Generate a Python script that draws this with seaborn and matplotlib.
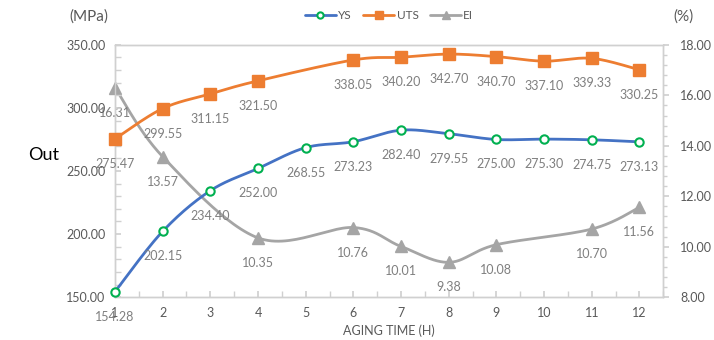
import numpy as np
import pandas as pd
import matplotlib
matplotlib.use("Agg")
import matplotlib.pyplot as plt
from matplotlib.ticker import MultipleLocator, FormatStrFormatter
from matplotlib.lines import Line2D
import seaborn as sns

# Aging time (h) and measured properties; NaN marks an untested point
aging_time = [1, 2, 3, 4, 5, 6, 7, 8, 9, 10, 11, 12]
ys = [154.28, 202.15, 234.40, 252.00, 268.55, 273.23, 282.40, 279.55, 275.00, 275.30, 274.75, 273.13]
uts = [275.47, 299.55, 311.15, 321.50, np.nan, 338.05, 340.20, 342.70, 340.70, 337.10, 339.33, 330.25]
ei = [16.31, 13.57, np.nan, 10.35, np.nan, 10.76, 10.01, 9.38, 10.08, np.nan, 10.70, 11.56]

sns.set_theme(style="white")
plt.rcParams["font.family"] = ["Lato", "DejaVu Sans"]

TXT = "#595959"
LBL = "#7f7f7f"
SPINE = "#d0d0d0"
C_YS, C_UTS, C_EI = "#4472C4", "#ED7D31", "#A5A5A5"

fig = plt.figure(figsize=(7.14, 3.40), dpi=100)
ax = fig.add_axes([0.161, 0.126, 0.768, 0.742])
ax2 = ax.twinx()

XLIM = (1, 12.5)
ax.set_xlim(*XLIM)
ax.set_ylim(150, 350)
ax2.set_ylim(8, 18)


def smooth(xs, vs, ylim, n=30):
    """Bezier smoothing through the valid points, computed in normalised axes space."""
    xs = np.asarray(xs, float)
    vs = np.asarray(vs, float)
    ok = ~np.isnan(vs)
    px = (xs[ok] - XLIM[0]) / (XLIM[1] - XLIM[0]) * 7.68
    py = (vs[ok] - ylim[0]) / (ylim[1] - ylim[0]) * 3.40 * 0.742
    P = np.column_stack([px, py])
    m = len(P)
    out = []
    for i in range(m - 1):
        p0 = P[max(i - 1, 0)]
        p1 = P[i]
        p2 = P[i + 1]
        p3 = P[min(i + 2, m - 1)]
        c1 = p1 + (p2 - p0) / 6
        c2 = p2 - (p3 - p1) / 6
        t = np.linspace(0, 1, n)[:, None]
        seg = ((1 - t) ** 3) * p1 + 3 * ((1 - t) ** 2) * t * c1 + 3 * (1 - t) * t ** 2 * c2 + t ** 3 * p2
        out.append(seg if i == 0 else seg[1:])
    S = np.vstack(out)
    sx = S[:, 0] / 7.68 * (XLIM[1] - XLIM[0]) + XLIM[0]
    sy = S[:, 1] / (3.40 * 0.742) * (ylim[1] - ylim[0]) + ylim[0]
    return pd.DataFrame({"x": sx, "y": sy})


series = [
    (ax, ys, (150, 350), C_YS, "o", "white", "#00B050", 6, "YS"),
    (ax, uts, (150, 350), C_UTS, "s", C_UTS, C_UTS, 8, "UTS"),
    (ax2, ei, (8, 18), C_EI, "^", C_EI, C_EI, 8, "EI"),
]

handles = []
for a, vals, lim, col, mk, fc, ec, ms, name in series:
    curve = smooth(aging_time, vals, lim)
    sns.lineplot(data=curve, x="x", y="y", ax=a, color=col, linewidth=2, sort=False,
                 estimator=None, zorder=3)
    pts = pd.DataFrame({"x": aging_time, "y": vals}).dropna()
    a.plot(pts["x"], pts["y"], linestyle="none", marker=mk, markersize=ms,
           markerfacecolor=fc, markeredgecolor=ec, markeredgewidth=1.5 if mk == "o" else 1,
           zorder=4, clip_on=False)
    for xv, yv in zip(pts["x"], pts["y"]):
        a.annotate(f"{yv:.2f}", (xv, yv), xytext=(0, -18), textcoords="offset points",
                   ha="center", va="center", fontsize=9, color=LBL, zorder=5)
    handles.append(Line2D([0], [0], color=col, linewidth=2, marker=mk,
                          markersize=ms * 0.75, markerfacecolor=fc, markeredgecolor=ec,
                          markeredgewidth=1.5 if mk == "o" else 1, label=name))

for a in (ax, ax2):
    a.set_xlabel("")
    a.set_ylabel("")
    for s in a.spines.values():
        s.set_color(SPINE)
        s.set_linewidth(1)

ax.xaxis.set_major_locator(MultipleLocator(1))
ax.xaxis.set_minor_locator(MultipleLocator(0.5))
ax.set_xticks(aging_time)
ax.set_xticklabels([str(v) for v in aging_time])
ax.yaxis.set_major_locator(MultipleLocator(50))
ax.yaxis.set_minor_locator(MultipleLocator(10))
ax.yaxis.set_major_formatter(FormatStrFormatter("%.2f"))
ax2.yaxis.set_major_locator(MultipleLocator(2))
ax2.yaxis.set_minor_locator(MultipleLocator(0.4))
ax2.yaxis.set_major_formatter(FormatStrFormatter("%.2f"))

ax.tick_params(axis="both", which="both", direction="in", color=SPINE, labelcolor=TXT,
               labelsize=9, left=True, bottom=True)
ax.tick_params(axis="both", which="major", length=4, pad=7)
ax.tick_params(axis="both", which="minor", length=4)
ax2.tick_params(axis="y", which="both", direction="out", color=SPINE, labelcolor=TXT,
                labelsize=9, right=True)
ax2.tick_params(axis="y", which="major", length=4, pad=8)
ax2.tick_params(axis="y", which="minor", length=3)

ax.set_zorder(ax2.get_zorder() + 1)
ax.patch.set_visible(False)

fig.text(0.5 * (0.161 + 0.929), 0.028, "AGING TIME (H)", ha="center", va="center",
         fontsize=9, color=TXT)
fig.text(0.125, 0.952, "(MPa)", ha="center", va="center", fontsize=11, color=TXT)
fig.text(0.957, 0.952, "(%)", ha="center", va="center", fontsize=11, color=TXT)
fig.text(0.04, 0.545, "Out", ha="left", va="center", fontsize=13, color="black")

fig.legend(handles=handles, loc="center", bbox_to_anchor=(0.545, 0.955), ncol=3,
           frameon=False, fontsize=8.5, labelcolor=TXT, handlelength=2.6,
           handletextpad=0.2, columnspacing=1.0)

fig.savefig("out.png", dpi=100)
